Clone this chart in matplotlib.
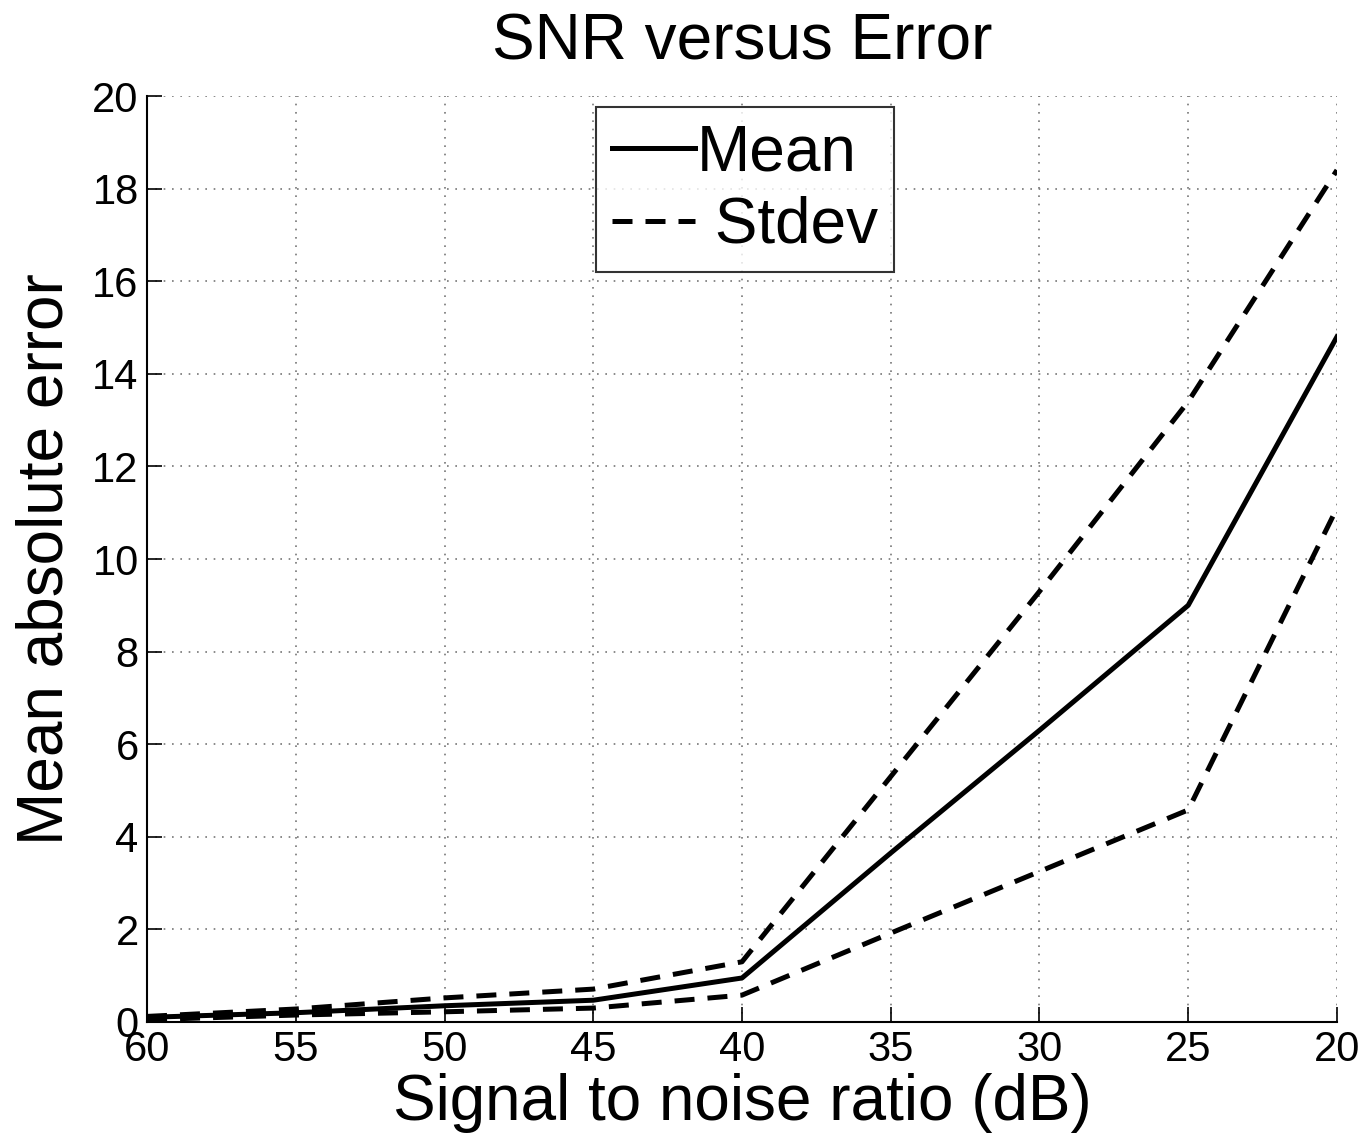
import numpy as np
import matplotlib
matplotlib.use("Agg")
import matplotlib.pyplot as plt

plt.rcParams['font.family'] = ['Liberation Sans', 'DejaVu Sans']

# SNR levels (dB) and error stats
snr = [60, 55, 50, 45, 40, 35, 30, 25, 20]
mean_err = [0.10, 0.20, 0.35, 0.47, 0.95, 3.65, 6.3, 9.0, 14.8]
upper_err = [0.12, 0.28, 0.52, 0.71, 1.30, 5.3, 9.3, 13.4, 18.4]
lower_err = [0.05, 0.15, 0.22, 0.30, 0.58, 1.92, 3.25, 4.58, 11.1]

xticks = [60, 55, 50, 45, 40, 35, 30, 25, 20]
yticks = np.arange(0, 21, 2)

fig = plt.figure(figsize=(13.68, 11.42), dpi=100)
ax = fig.add_axes([0.1075, 0.1051, 0.8698, 0.8108])

lw = 3.6
ax.plot(snr, mean_err, color='black', linewidth=lw, label='Mean')
ax.plot(snr, upper_err, color='black', linewidth=lw, linestyle=(0, (4, 2.6)), label=' Stdev')
ax.plot(snr, lower_err, color='black', linewidth=lw, linestyle=(0, (4, 2.6)))

ax.set_xlim(60, 20)
ax.set_ylim(0, 20)
ax.set_xticks(xticks)
ax.set_yticks(yticks)

ax.grid(True, linestyle=(0, (1, 4)), color='#777777', linewidth=1.2)
ax.spines['top'].set_visible(False)
ax.spines['right'].set_visible(False)
for s in ['left', 'bottom']:
    ax.spines[s].set_linewidth(1.5)
ax.tick_params(direction='in', length=11, width=1.2, labelsize=30, pad=6)

ax.set_title('SNR versus Error', fontsize=46, pad=26)
ax.set_xlabel('Signal to noise ratio (dB)', fontsize=46, labelpad=2)
ax.set_ylabel('Mean absolute error', fontsize=46, labelpad=12)

leg = ax.legend(loc='upper left', fontsize=46, frameon=True, fancybox=False,
                edgecolor='black', handlelength=1.3, handletextpad=0.03,
                borderpad=0.25, labelspacing=0.2, borderaxespad=0,
                bbox_to_anchor=(0.377, 0.988))
leg.get_frame().set_linewidth(1.5)

fig.savefig('out.png', dpi=100, facecolor='white')
